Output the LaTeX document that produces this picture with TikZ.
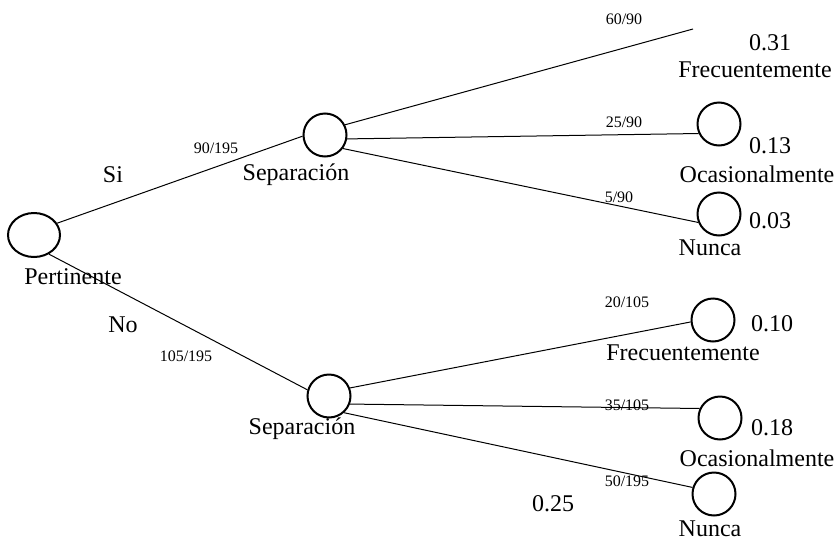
\documentclass[tikz,border=0pt]{standalone}
\usepackage{fontspec}
\setmainfont{Liberation Serif}
\usepackage{tikz}
\usetikzlibrary{shapes.geometric}

\begin{document}
\begin{tikzpicture}[x=0.5pt,y=-0.5pt,
  chance/.style={draw,circle,line width=1pt,minimum size=21.5pt,inner sep=0pt},
  rootnode/.style={draw,ellipse,line width=1pt,minimum width=26pt,minimum height=22pt,inner sep=0pt},
  branch/.style={line width=0.5pt},
  lbl/.style={inner sep=0pt,font=\fontsize{12}{14}\selectfont},
  frac/.style={inner sep=0pt,font=\fontsize{8}{10}\selectfont}]
\useasboundingbox (0,0) rectangle (836,541);
\node[rootnode] (pert) at (34,235) {};
\node[chance] (sepA) at (325,135) {};
\node[chance] (sepB) at (329,396) {};
\coordinate (freqA) at (693,29);
\node[chance] (ocaA) at (719,124) {};
\node[chance] (nunA) at (719,214) {};
\node[chance] (freqB) at (713,320) {};
\node[chance] (ocaB) at (720,418) {};
\node[chance] (nunB) at (714,494) {};
\draw[branch] (pert.27) -- (sepA.183);
\draw[branch] (pert.-52) -- (sepB.164);
\draw[branch] (sepA.27) -- (freqA);
\draw[branch] (sepA.-10) -- (ocaA.205);
\draw[branch] (sepA.-37) -- (nunA.202);
\draw[branch] (sepB.21) -- (freqB.185);
\draw[branch] (sepB.-21) -- (ocaB.155);
\draw[branch] (sepB.-48) -- (nunB.163);
\node[lbl] (tPert) at (73,277) {Pertinente};
\node[lbl] (tSi) at (113,175) {Si};
\node[frac] (pSi) at (216,148) {90/195};
\node[lbl] (tSepA) at (296,175) {Separación};
\node[lbl] (tNo) at (123,325) {No};
\node[frac] (pNo) at (186,356) {105/195};
\node[lbl] (tSepB) at (302,429) {Separación};
\node[frac] (pFreqA) at (624,19) {60/90};
\node[lbl] (vFreqA) at (770,43) {0.31};
\node[lbl] (tFreqA) at (755,70) {Frecuentemente};
\node[frac] (pOcaA) at (624,122) {25/90};
\node[lbl] (vOcaA) at (770,146) {0.13};
\node[lbl] (tOcaA) at (757,174) {Ocasionalmente};
\node[frac] (pNunA) at (619,197) {5/90};
\node[lbl] (vNunA) at (770,221) {0.03};
\node[lbl] (tNunA) at (710,248) {Nunca};
\node[frac] (pFreqB) at (627,302) {20/105};
\node[lbl] (vFreqB) at (772,324) {0.10};
\node[lbl] (tFreqB) at (683,353) {Frecuentemente};
\node[frac] (pOcaB) at (627,405) {35/105};
\node[lbl] (vOcaB) at (772,428) {0.18};
\node[lbl] (tOcaB) at (757,458) {Ocasionalmente};
\node[frac] (pNunB) at (627,481) {50/195};
\node[lbl] (vNunB) at (553,504) {0.25};
\node[lbl] (tNunB) at (710,529) {Nunca};
\end{tikzpicture}
\end{document}
